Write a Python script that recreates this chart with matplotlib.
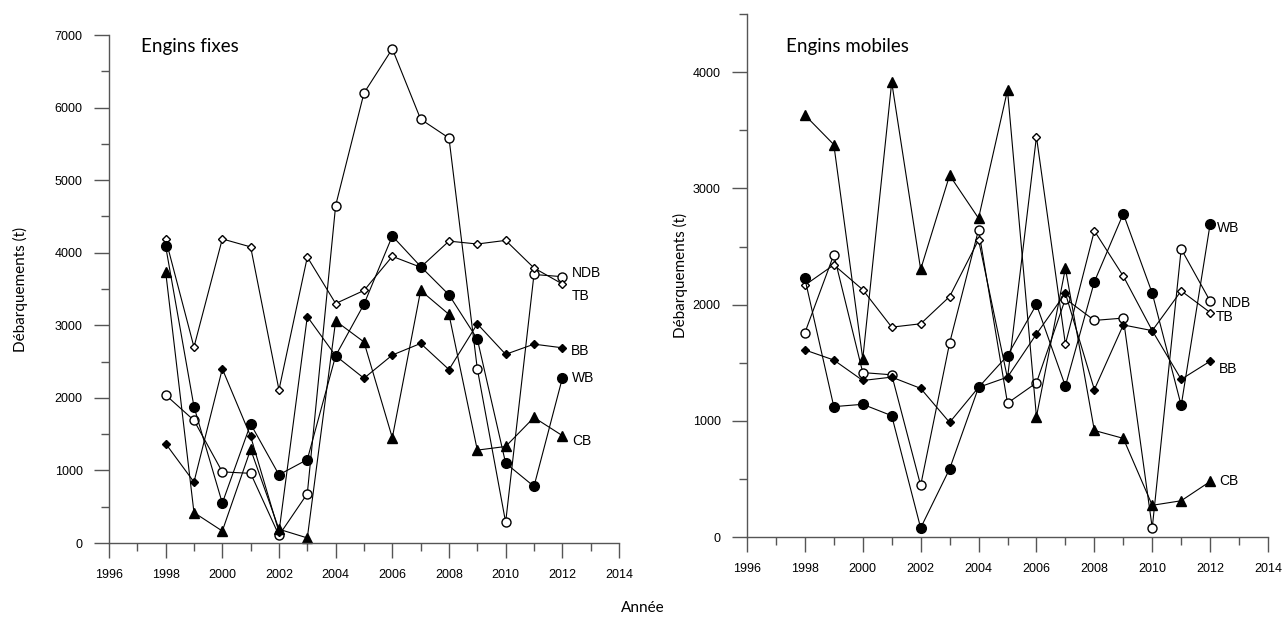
import numpy as np
import matplotlib
matplotlib.use("Agg")
from matplotlib import pyplot as plt
from matplotlib.ticker import MultipleLocator

years = np.arange(1998, 2013)

# Engins fixes (t)
fix_ndb = [2040, 1690, 980, 960, 105, 680, 4650, 6200, 6810, 5840, 5580, 2400, 285, 3700, 3670]
fix_tb = [4190, 2700, 4190, 4080, 2110, 3940, 3300, 3480, 3950, 3800, 4160, 4120, 4170, 3790, 3570]
fix_bb = [1370, 840, 2400, 1470, 150, 3120, 2580, 2270, 2590, 2750, 2390, 3020, 2600, 2740, 2690]
fix_wb = [4090, 1880, 550, 1640, 940, 1150, 2580, 3290, 4230, 3810, 3420, 2810, 1100, 780, 2270]
fix_cb = [3740, 420, 165, 1290, 190, 70, 3060, 2770, 1450, 3480, 3150, 1280, 1330, 1730, 1480]

# Engins mobiles (t)
mob_ndb = [1757, 2430, 1415, 1396, 444, 1669, 2645, 1152, 1327, 2050, 1864, 1884, 78, 2479, 2030]
mob_tb = [2167, 2342, 2128, 1806, 1835, 2069, 2557, 1366, 3445, 1659, 2635, 2245, 1776, 2118, 1932]
mob_bb = [1610, 1523, 1347, 1376, 1279, 986, 1288, 1376, 1747, 2098, 1269, 1825, 1776, 1357, 1513]
mob_wb = [2225, 1122, 1142, 1044, 78, 586, 1288, 1562, 2001, 1298, 2196, 2782, 2098, 1132, 2694]
mob_cb = [3631, 3377, 1532, 3914, 2303, 3113, 2743, 3845, 1035, 2313, 917, 849, 273, 312, 478]

series_names = ["NDB", "TB", "BB", "WB", "CB"]
styles = {
    "NDB": dict(marker="o", ms=6.5, mfc="white"),
    "TB": dict(marker="D", ms=4.5, mfc="white"),
    "BB": dict(marker="D", ms=4.5, mfc="black"),
    "WB": dict(marker="o", ms=7, mfc="black"),
    "CB": dict(marker="^", ms=7.5, mfc="black"),
}

plt.rcParams["font.family"] = ["Liberation Sans", "DejaVu Sans"]
fig = plt.figure(figsize=(12.85, 6.24), dpi=100)

ax1 = fig.add_axes([0.0848, 0.1298, 0.3969, 0.8141])
ax2 = fig.add_axes([0.5813, 0.1394, 0.4055, 0.838])


def draw(ax, data, ymax, title, title_pos, lab_pos, ylabpad):
    for name, vals in zip(series_names, data):
        st = styles[name]
        ax.plot(years, vals, color="black", lw=0.8, marker=st["marker"], ms=st["ms"],
                mfc=st["mfc"], mec="black", mew=1.0, clip_on=False)
    for name, (x, y) in lab_pos.items():
        ax.text(x, y, name, fontsize=10, va="center", ha="left")
    ax.set_xlim(1996, 2014)
    ax.set_ylim(0, ymax)
    ax.xaxis.set_major_locator(MultipleLocator(2))
    ax.xaxis.set_minor_locator(MultipleLocator(1))
    ax.yaxis.set_major_locator(MultipleLocator(1000))
    ax.yaxis.set_minor_locator(MultipleLocator(500))
    for s in ["top", "right"]:
        ax.spines[s].set_visible(False)
    for s in ["left", "bottom"]:
        ax.spines[s].set_color("#555555")
        ax.spines[s].set_linewidth(1.0)
    ax.tick_params(which="major", length=11, width=1.0, color="#555555", labelsize=9, pad=8)
    ax.tick_params(which="minor", length=5.5, width=1.0, color="#555555")
    ax.set_ylabel("Débarquements (t)", family=["Lato", "DejaVu Sans"], fontsize=11, labelpad=ylabpad)
    ax.text(title_pos[0], title_pos[1], title, transform=ax.transAxes, family=["Lato", "DejaVu Sans"],
            fontsize=13.5, va="center", ha="left")


draw(ax1, [fix_ndb, fix_tb, fix_bb, fix_wb, fix_cb], 7000, "Engins fixes", (0.062, 0.978),
     {"NDB": (2012.35, 3720), "TB": (2012.35, 3410), "BB": (2012.3, 2640),
      "WB": (2012.35, 2280), "CB": (2012.35, 1410)}, 19)
draw(ax2, [mob_ndb, mob_tb, mob_bb, mob_wb, mob_cb], 4500, "Engins mobiles", (0.074, 0.939),
     {"NDB": (2012.4, 2012), "TB": (2012.2, 1892), "BB": (2012.3, 1445),
      "WB": (2012.25, 2657), "CB": (2012.3, 482)}, 3)

fig.text(0.5005, 0.025, "Année", ha="center", va="center", family=["Lato", "DejaVu Sans"], fontsize=11)

fig.savefig("out.png", dpi=100)
